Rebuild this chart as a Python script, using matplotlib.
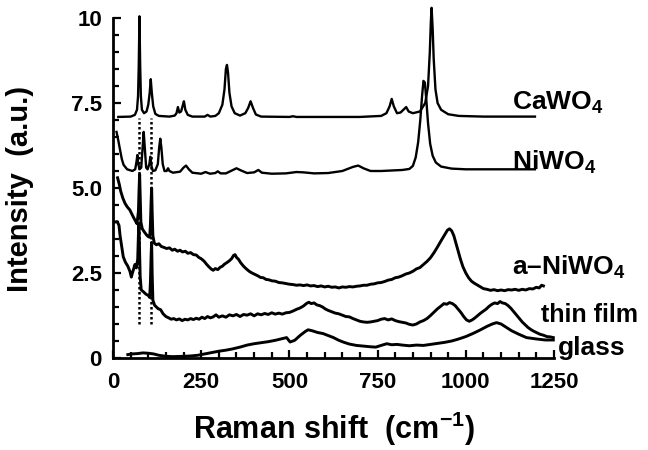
import matplotlib
matplotlib.use("Agg")
import matplotlib.pyplot as plt
from matplotlib.ticker import MultipleLocator, FixedLocator, FixedFormatter

# spectra (x in cm-1, y in a.u., already offset)
cawo4_x = [15, 50, 62, 68, 71, 73, 75, 77, 79, 82, 88, 95, 100, 104, 107, 110, 114, 120, 130, 160,
	175, 180, 184, 188, 193, 197, 201, 205, 212, 225, 260, 268, 276, 290, 300, 310, 316, 320, 323, 326,
	330, 336, 345, 360, 375, 383, 390, 397, 405, 420, 500, 510, 520, 700, 760, 775, 784, 790, 796, 805,
	815, 825, 831, 838, 850, 870, 885, 893, 898, 901, 903, 906, 909, 914, 920, 930, 950, 980, 1050, 1196]
cawo4_y = [7.09, 7.10, 7.15, 7.3, 7.7, 8.6, 10.05, 8.6, 7.7, 7.3, 7.2, 7.25, 7.45, 7.8, 8.2, 7.8, 7.4, 7.18, 7.12, 7.1,
	7.13, 7.2, 7.38, 7.22, 7.25, 7.4, 7.55, 7.3, 7.15, 7.1, 7.1, 7.15, 7.1, 7.12, 7.2, 7.45, 7.9, 8.5, 8.62, 8.4,
	7.8, 7.4, 7.2, 7.13, 7.2, 7.35, 7.55, 7.35, 7.16, 7.1, 7.09, 7.11, 7.09, 7.09, 7.12, 7.2, 7.4, 7.62, 7.4, 7.2,
	7.22, 7.32, 7.38, 7.25, 7.2, 7.25, 7.5, 8.0, 9.0, 9.9, 10.3, 9.7, 8.8, 7.9, 7.5, 7.3, 7.17, 7.12, 7.1, 7.1]

niwo4_x = [10, 15, 20, 25, 30, 40, 55, 63, 67, 69, 71, 75, 80, 84, 87, 90, 94, 98, 103, 106,
	109, 113, 120, 127, 131, 134, 137, 141, 146, 152, 156, 160, 170, 190, 200, 207, 215, 225, 250, 262,
	275, 290, 297, 305, 320, 340, 350, 362, 380, 400, 412, 422, 450, 490, 520, 540, 570, 610, 650, 680,
	695, 710, 730, 760, 800, 820, 840, 850, 858, 865, 871, 876, 880, 884, 888, 893, 899, 906, 915, 930,
	960, 1000, 1100, 1196]
niwo4_y = [6.65, 6.4, 6.12, 5.85, 5.68, 5.55, 5.5, 5.55, 5.8, 5.97, 5.75, 5.55, 5.6, 6.2, 6.65, 6.2, 5.6, 5.55, 5.7, 5.92,
	5.65, 5.5, 5.52, 5.7, 6.2, 6.45, 6.2, 5.7, 5.5, 5.5, 5.58, 5.5, 5.45, 5.48, 5.6, 5.66, 5.55, 5.45, 5.42, 5.47,
	5.42, 5.44, 5.49, 5.43, 5.43, 5.53, 5.58, 5.52, 5.44, 5.46, 5.53, 5.45, 5.42, 5.43, 5.47, 5.46, 5.43, 5.44, 5.5, 5.62,
	5.66, 5.58, 5.5, 5.5, 5.52, 5.53, 5.56, 5.65, 5.9, 6.35, 7.0, 7.7, 8.15, 8.1, 7.6, 6.9, 6.3, 5.95, 5.75, 5.63,
	5.57, 5.55, 5.55, 5.55]

a_niwo4_x = [13, 18, 22, 28, 34, 40, 48, 55, 62, 68, 72, 74, 75.5, 77, 79, 83, 88, 95, 100, 104,
	106, 108, 109.5, 111, 113, 117, 123, 130, 137, 145, 152, 160, 168, 175, 183, 190, 197, 205, 212, 220,
	228, 236, 243, 250, 258, 265, 272, 278, 284, 290, 297, 304, 310, 316, 322, 330, 336, 342, 346, 350,
	356, 362, 370, 378, 386, 394, 402, 410, 418, 426, 434, 442, 450, 460, 470, 480, 490, 500, 510, 520,
	530, 540, 550, 560, 570, 580, 590, 600, 610, 620, 630, 640, 650, 660, 670, 680, 690, 700, 710, 720,
	730, 740, 750, 760, 770, 780, 790, 800, 810, 820, 830, 840, 850, 860, 870, 880, 890, 900, 910, 920,
	930, 940, 948, 954, 960, 966, 972, 978, 985, 992, 1000, 1008, 1016, 1024, 1032, 1040, 1050, 1060, 1070, 1080,
	1090, 1100, 1110, 1120, 1130, 1140, 1150, 1160, 1170, 1180, 1190, 1200, 1208, 1215, 1220]
a_niwo4_y = [5.3, 5.1, 4.9, 4.7, 4.55, 4.45, 4.35, 4.2, 4.06, 3.95, 4.3, 5.0, 5.4, 4.8, 4.0, 3.8, 3.72, 3.62, 3.57, 3.55,
	3.9, 4.6, 5.0, 4.3, 3.6, 3.38, 3.33, 3.36, 3.28, 3.25, 3.22, 3.24, 3.17, 3.2, 3.14, 3.17, 3.12, 3.14, 3.08, 3.1,
	3.04, 3.03, 2.96, 2.92, 2.85, 2.76, 2.68, 2.62, 2.58, 2.63, 2.6, 2.67, 2.7, 2.76, 2.8, 2.86, 2.92, 3.02, 3.04, 2.96,
	2.9, 2.8, 2.7, 2.62, 2.55, 2.5, 2.46, 2.42, 2.37, 2.36, 2.31, 2.3, 2.27, 2.26, 2.22, 2.21, 2.19, 2.17, 2.16, 2.14,
	2.15, 2.13, 2.15, 2.12, 2.13, 2.1, 2.12, 2.09, 2.11, 2.08, 2.09, 2.06, 2.09, 2.08, 2.1, 2.09, 2.11, 2.12, 2.14, 2.14,
	2.17, 2.18, 2.21, 2.22, 2.25, 2.29, 2.31, 2.36, 2.38, 2.42, 2.47, 2.5, 2.55, 2.62, 2.66, 2.75, 2.84, 2.95, 3.1, 3.27,
	3.45, 3.62, 3.76, 3.8, 3.74, 3.6, 3.38, 3.15, 2.9, 2.68, 2.5, 2.36, 2.26, 2.2, 2.15, 2.1, 2.04, 2.02, 1.99, 2.01,
	1.98, 2.0, 1.98, 2.01, 2.0, 2.02, 1.99, 2.02, 2.0, 2.04, 2.03, 2.08, 2.06, 2.14, 2.12]

film_x = [5, 12, 17, 20, 25, 29, 35, 42, 48, 52, 55, 58, 62, 66, 70, 72, 73.5, 75, 77, 80,
	86, 93, 100, 104, 106, 108, 109.5, 111, 113, 118, 123, 128, 135, 142, 150, 158, 165, 172, 180, 188,
	196, 204, 212, 220, 228, 236, 244, 252, 260, 268, 276, 284, 292, 300, 310, 320, 330, 340, 350, 360,
	370, 380, 390, 400, 410, 420, 430, 440, 450, 460, 470, 480, 490, 500, 510, 520, 530, 540, 548, 555,
	562, 570, 578, 586, 594, 602, 610, 620, 630, 640, 650, 660, 670, 680, 690, 700, 710, 720, 730, 740,
	750, 760, 770, 780, 790, 800, 810, 820, 830, 840, 850, 860, 870, 880, 890, 900, 910, 920, 930, 938,
	946, 954, 962, 970, 978, 986, 994, 1002, 1010, 1018, 1026, 1034, 1042, 1050, 1058, 1066, 1074, 1082, 1090, 1097,
	1104, 1112, 1120, 1128, 1136, 1144, 1152, 1160, 1168, 1176, 1184, 1192, 1200, 1210, 1220, 1230, 1240, 1248]
film_y = [4.0, 4.01, 3.9, 3.6, 3.25, 2.98, 2.82, 2.7, 2.55, 2.38, 2.5, 2.6, 2.75, 2.65, 2.9, 3.6, 3.95, 3.3, 2.4, 2.0,
	1.95, 1.88, 1.84, 1.78, 2.2, 3.0, 3.4, 2.5, 1.7, 1.55, 1.5, 1.45, 1.42, 1.3, 1.22, 1.18, 1.14, 1.16, 1.12, 1.15,
	1.1, 1.14, 1.12, 1.16, 1.13, 1.17, 1.14, 1.2, 1.16, 1.22, 1.18, 1.21, 1.27, 1.2, 1.24, 1.2, 1.27, 1.24, 1.28, 1.22,
	1.28, 1.26, 1.3, 1.24, 1.3, 1.27, 1.31, 1.28, 1.33, 1.29, 1.32, 1.29, 1.33, 1.34, 1.38, 1.43, 1.47, 1.53, 1.6, 1.64,
	1.6, 1.62, 1.56, 1.54, 1.5, 1.44, 1.4, 1.36, 1.32, 1.3, 1.26, 1.22, 1.21, 1.16, 1.12, 1.08, 1.06, 1.05, 1.06, 1.08,
	1.1, 1.14, 1.16, 1.12, 1.15, 1.1, 1.07, 1.05, 1.03, 0.99, 0.97, 1.0, 1.06, 1.1, 1.16, 1.25, 1.35, 1.45, 1.53, 1.6,
	1.58, 1.63, 1.6, 1.54, 1.44, 1.34, 1.22, 1.12, 1.08, 1.12, 1.18, 1.25, 1.32, 1.38, 1.44, 1.52, 1.58, 1.62, 1.6, 1.66,
	1.62, 1.6, 1.54, 1.46, 1.36, 1.26, 1.16, 1.06, 0.98, 0.9, 0.84, 0.79, 0.75, 0.7, 0.67, 0.63, 0.62, 0.6]

glass_x = [42, 55, 70, 85, 100, 115, 130, 150, 170, 200, 220, 240, 260, 280, 300, 320, 340, 360, 380, 400,
	420, 440, 460, 480, 492, 502, 515, 530, 545, 553, 565, 580, 595, 610, 625, 640, 655, 670, 690, 710,
	730, 745, 760, 776, 790, 805, 820, 840, 860, 880, 900, 920, 940, 960, 980, 1000, 1020, 1040, 1060, 1075,
	1087, 1100, 1115, 1130, 1150, 1172, 1200, 1225, 1248]
glass_y = [0.1, 0.12, 0.13, 0.15, 0.14, 0.12, 0.08, 0.05, 0.04, 0.05, 0.06, 0.08, 0.12, 0.16, 0.2, 0.23, 0.27, 0.32, 0.38, 0.42,
	0.45, 0.48, 0.52, 0.57, 0.6, 0.47, 0.52, 0.66, 0.78, 0.83, 0.8, 0.75, 0.72, 0.66, 0.6, 0.52, 0.46, 0.41, 0.37, 0.35,
	0.33, 0.32, 0.37, 0.42, 0.39, 0.4, 0.38, 0.36, 0.38, 0.37, 0.4, 0.43, 0.46, 0.5, 0.56, 0.63, 0.72, 0.82, 0.93, 1.0,
	1.04, 1.0, 0.9, 0.8, 0.7, 0.6, 0.56, 0.53, 0.53]

# CaWO4 band positions marked through the lower spectra
marker_x = [75, 108]
marker_top = 7.05
marker_bottom = 1.0

y_ticks = [0, 2.5, 5.0, 7.5, 10]
y_tick_labels = ["0", "2.5", "5.0", "7.5", "10"]
x_ticks = [0, 250, 500, 750, 1000, 1250]


def setup_fonts():
	plt.rcParams['font.family'] = ['Liberation Sans', 'DejaVu Sans']
	plt.rcParams['font.weight'] = 'bold'
	plt.rcParams['axes.labelweight'] = 'bold'
	plt.rcParams['mathtext.fontset'] = 'custom'
	plt.rcParams['mathtext.rm'] = 'Liberation Sans:bold'
	plt.rcParams['mathtext.bf'] = 'Liberation Sans:bold'
	plt.rcParams['mathtext.it'] = 'Liberation Sans:bold'
	plt.rcParams['mathtext.default'] = 'bf'


def plot():
	fig = plt.figure(figsize=(6.48, 4.5), dpi=100)
	ax = fig.add_axes([113 / 648, 92 / 450, 441 / 648, 353.6 / 450])

	for xs, ys in [(cawo4_x, cawo4_y), (niwo4_x, niwo4_y)]:
		ax.plot(xs, ys, color="black", lw=1.7, clip_on=False, solid_joinstyle="round")
	for xs, ys in [(a_niwo4_x, a_niwo4_y), (film_x, film_y), (glass_x, glass_y)]:
		ax.plot(xs, ys, color="black", lw=2.1, clip_on=False, solid_joinstyle="round")

	for xm in marker_x:
		ax.plot([xm, xm], [marker_bottom, marker_top], color="black", lw=1.8, linestyle=(0, (1, 1)))

	lab = dict(fontsize=19, ha="left", va="baseline", clip_on=False)
	ax.text(1131, 7.29, "CaWO$_4$", **lab)
	ax.text(1131, 5.53, "NiWO$_4$", **lab)
	ax.text(1131, 2.44, "a\u2013NiWO$_4$", **lab)
	ax.text(1212, 1.07, "thin film", fontsize=18, ha="left", va="baseline", clip_on=False)
	ax.text(1261, 0.09, "glass", **lab)

	ax.set_xlim(0, 1250)
	ax.set_ylim(0, 10.4)
	ax.spines['top'].set_visible(False)
	ax.spines['right'].set_visible(False)
	ax.spines['left'].set_bounds(0, 10)
	for side in ['left', 'bottom']:
		ax.spines[side].set_linewidth(2.0)

	ax.xaxis.set_major_locator(FixedLocator(x_ticks))
	ax.xaxis.set_minor_locator(MultipleLocator(50))
	ax.yaxis.set_major_locator(FixedLocator(y_ticks))
	ax.yaxis.set_major_formatter(FixedFormatter(y_tick_labels))
	ax.yaxis.set_minor_locator(MultipleLocator(0.5))
	ax.tick_params(which="both", direction="in", width=1.6)
	ax.tick_params(which="major", length=6)
	ax.tick_params(which="minor", length=4)
	ax.tick_params(axis="x", which="major", pad=10, labelsize=16)
	ax.tick_params(axis="y", which="major", pad=8, labelsize=16)

	ax.set_xlabel("Raman shift  (cm$^{-1}$)", fontsize=22, labelpad=12)
	fig.text(20 / 648, 1 - 189 / 450, "Intensity  (a.u.)", fontsize=21, rotation=90,
		ha="center", va="center")

	fig.savefig("out.png", dpi=100)


def main():
	setup_fonts()
	plot()


if __name__ == "__main__":
	main()
